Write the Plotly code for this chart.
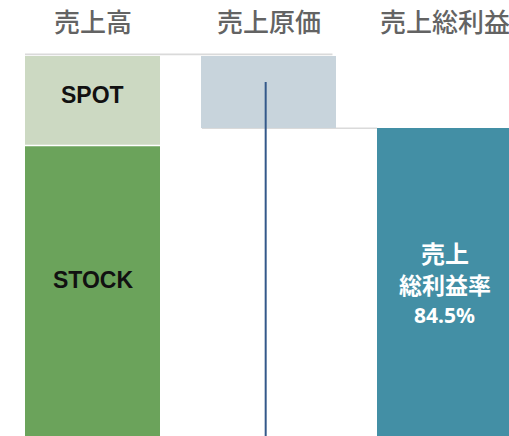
import plotly.graph_objects as go

# ---- data ----
categories = ["売上高", "売上原価", "売上総利益"]
positions = [0, 1, 2]
spot_value = 19.4
stock_value = 80.6
sales_total = spot_value + stock_value
cost_value = 15.5
gross_value = 84.5
segment_labels = ["SPOT", "STOCK"]
margin_lines = ["売上", "総利益率", "84.5%"]
divider_x = 0.984
divider_top = 94.4

# ---- styling ----
BAR_W = 0.767
FONT = "Noto Sans CJK JP"
LATIN = "Liberation Sans"
C_STOCK = "#6BA35B"
C_SPOT = "#CCD9C2"
C_COST = "#C8D4DC"
C_GROSS = "#438FA5"
C_LINE = "#DADADA"
C_DIV = "#34598A"

W, H = 509, 436
px_per_x = 176.0
px_per_y = 4.64
x0_px = 92.5
top_px = 56.0
xmin = positions[0] - x0_px / px_per_x
xmax = xmin + W / px_per_x
ymax = sales_total + top_px / px_per_y
ymin = ymax - H / px_per_y

fig = go.Figure()
fig.add_trace(go.Bar(x=[positions[0]], y=[stock_value], base=[0], width=BAR_W,
                     marker=dict(color=C_STOCK, line=dict(width=0)), hoverinfo="skip"))
fig.add_trace(go.Bar(x=[positions[0]], y=[spot_value], base=[stock_value], width=BAR_W,
                     marker=dict(color=C_SPOT, line=dict(width=0)), hoverinfo="skip"))
fig.add_trace(go.Bar(x=[positions[1]], y=[cost_value], base=[sales_total - cost_value], width=BAR_W,
                     marker=dict(color=C_COST, line=dict(width=0)), hoverinfo="skip"))
fig.add_trace(go.Bar(x=[positions[2]], y=[gross_value], base=[0], width=BAR_W,
                     marker=dict(color=C_GROSS, line=dict(width=0)), hoverinfo="skip"))
fig.add_trace(go.Scatter(x=[divider_x, divider_x], y=[divider_top, ymin], mode="lines",
                         line=dict(color=C_DIV, width=2), hoverinfo="skip"))

# white separator between SPOT and STOCK
fig.add_shape(type="line", xref="x", yref="y",
              x0=positions[0] - BAR_W / 2, x1=positions[0] + BAR_W / 2,
              y0=stock_value + 0.12, y1=stock_value + 0.12,
              line=dict(color="white", width=1.5), layer="above")
# connector lines
fig.add_shape(type="line", xref="x", yref="y", layer="below",
              x0=positions[0] - BAR_W / 2, x1=positions[1] + BAR_W / 2 - 0.02,
              y0=sales_total + 0.36, y1=sales_total + 0.36,
              line=dict(color=C_LINE, width=1.8))
fig.add_shape(type="line", xref="x", yref="y", layer="below",
              x0=positions[1] - BAR_W / 2 + 0.005, x1=positions[2] - BAR_W / 2,
              y0=sales_total - cost_value - 0.08, y1=sales_total - cost_value - 0.08,
              line=dict(color=C_LINE, width=1.6))

def ypaper(px):
    return 1 - px / H

for p, c in zip(positions, categories):
    fig.add_annotation(x=p, y=ypaper(21), xref="x", yref="paper", text=c, showarrow=False,
                       font=dict(family=FONT, size=26, color="#636363", weight=500),
                       xanchor="center", yanchor="middle")

fig.add_annotation(x=positions[0], y=ypaper(95), xref="x", yref="paper", text=segment_labels[0],
                   showarrow=False, font=dict(family=LATIN, size=23, color="#111111", weight=700),
                   xanchor="center", yanchor="middle")
fig.add_annotation(x=positions[0], y=ypaper(280), xref="x", yref="paper", text=segment_labels[1],
                   showarrow=False, font=dict(family=LATIN, size=23, color="#111111", weight=700),
                   xanchor="center", yanchor="middle")

line_centers = [252.5, 284, 315]
line_sizes = [24, 23, 21]
line_fonts = [FONT, FONT, "Noto Sans"]
for txt, yc, sz, fam in zip(margin_lines, line_centers, line_sizes, line_fonts):
    fig.add_annotation(x=positions[2], y=ypaper(yc), xref="x", yref="paper", text=txt,
                       showarrow=False, font=dict(family=fam, size=sz, color="white", weight=700),
                       xanchor="center", yanchor="middle", borderpad=0)

fig.update_layout(
    width=W, height=H, margin=dict(l=0, r=0, t=0, b=0),
    paper_bgcolor="white", plot_bgcolor="white", showlegend=False,
    barmode="overlay", bargap=0,
    xaxis=dict(range=[xmin, xmax], visible=False, fixedrange=True),
    yaxis=dict(range=[ymin, ymax], visible=False, fixedrange=True),
)
fig.write_html("out.html", config={"displayModeBar": False},
               post_script="document.body.style.margin='0';document.body.style.overflow='hidden';")
